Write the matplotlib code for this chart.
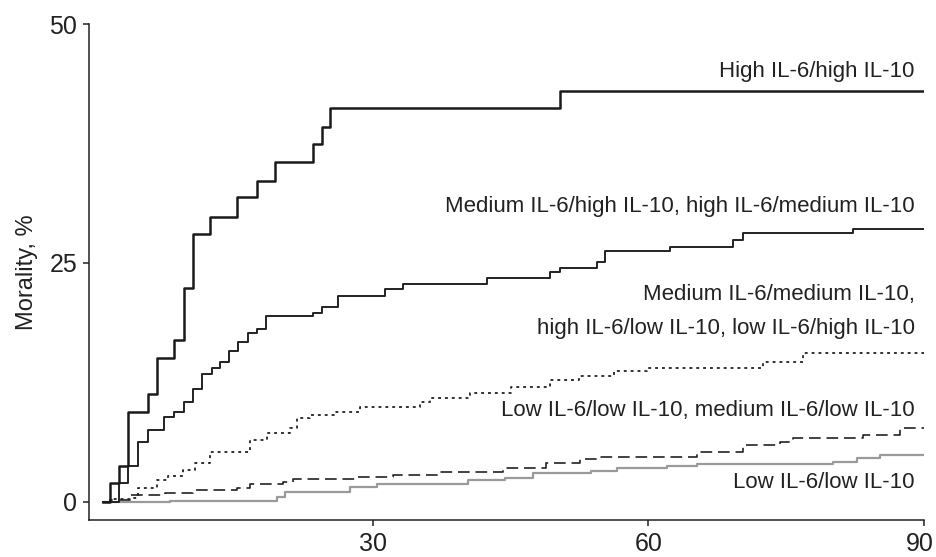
import matplotlib
matplotlib.use("Agg")
import matplotlib.pyplot as plt
from matplotlib.transforms import ScaledTranslation

plt.rcParams['font.family'] = ['Liberation Sans Narrow', 'Liberation Sans', 'DejaVu Sans']

# days / mortality (%)
high_x = [0.6, 1.4, 2.3, 3.3, 5.5, 6.5, 8.3, 9.4, 10.4, 12.3, 15.2, 17.4, 19.3, 23.5, 24.5, 25.3, 50.4, 90]
high_y = [0, 2.0, 3.7, 9.4, 11.3, 15.1, 16.9, 22.4, 28.0, 29.8, 31.9, 33.6, 35.6, 37.4, 39.2, 41.2, 43.0, 43.0]

medhigh_x = [0.6, 2.3, 3.3, 4.4, 5.5, 7.2, 8.3, 9.4, 10.4, 11.4, 12.5, 13.3, 14.3, 15.3, 16.4, 17.4, 18.4,
             23.5, 24.5, 26.2, 31.3, 33.3, 42.4, 49.3, 50.4, 54.4, 55.3, 62.4, 69.2, 70.3, 82.3, 90]
medhigh_y = [0, 2.0, 3.7, 6.3, 7.5, 8.9, 9.4, 10.5, 11.8, 13.4, 14.0, 14.6, 15.8, 16.7, 17.7, 18.1, 19.4,
             19.8, 20.4, 21.5, 22.3, 22.8, 23.4, 24.0, 24.5, 25.1, 26.3, 26.7, 27.4, 28.1, 28.6, 28.6]

medmed_x = [0.6, 1.4, 3.5, 4.4, 6.5, 7.7, 9.3, 10.6, 12.3, 16.6, 18.5, 21.0, 21.7, 23.1, 25.7, 28.6,
            35.1, 36.2, 40.6, 45.0, 49.3, 52.4, 56.2, 59.8, 72.5, 76.8, 90]
medmed_y = [0, 0.3, 0.4, 1.5, 2.3, 2.7, 3.3, 4.1, 5.2, 6.5, 7.2, 7.7, 8.8, 9.1, 9.4, 9.9,
            10.4, 10.9, 11.4, 12.0, 12.8, 13.2, 13.7, 14.0, 14.6, 15.6, 15.6]

lowmed_x = [0.6, 1.4, 3.5, 7.3, 10.4, 15.2, 16.6, 20.2, 21.3, 28.3, 32.2, 37.3, 44.2, 48.9, 52.6, 54.4,
            65.3, 70.3, 74.3, 75.8, 83.4, 87.4, 90]
lowmed_y = [0, 0.2, 0.7, 0.9, 1.25, 1.45, 1.9, 2.1, 2.4, 2.6, 2.8, 3.1, 3.5, 4.1, 4.5, 4.7,
            5.2, 5.9, 6.3, 6.7, 7.0, 7.7, 7.7]

low_x = [0.6, 7.9, 19.6, 20.4, 27.5, 30.4, 40.4, 44.4, 47.4, 53.7, 56.6, 62.0, 65.3, 80.1, 82.7, 85.2, 90]
low_y = [0, 0.1, 0.5, 1.0, 1.6, 1.9, 2.3, 2.5, 3.0, 3.2, 3.5, 3.7, 4.0, 4.2, 4.6, 4.9, 4.9]

labels = ['High IL-6/high IL-10',
          'Medium IL-6/high IL-10, high IL-6/medium IL-10',
          'Medium IL-6/medium IL-10,\nhigh IL-6/low IL-10, low IL-6/high IL-10',
          'Low IL-6/low IL-10, medium IL-6/low IL-10',
          'Low IL-6/low IL-10']
label_y = [45.0, 30.9, 19.9, 9.6, 2.0]

fig = plt.figure(figsize=(9.36, 5.57), dpi=100)
ax = fig.add_axes([0.0951, 0.0664, 0.8919, 0.8905])

ax.step(low_x, low_y, where='post', color='#9a9a9a', lw=1.6)
ax.step(lowmed_x, lowmed_y, where='post', color='#222222', lw=1.2, dashes=(7, 3.5))
ax.step(medmed_x, medmed_y, where='post', color='#222222', lw=1.3, dashes=(1.6, 2.2))
ax.step(medhigh_x, medhigh_y, where='post', color='#222222', lw=1.4)
ax.step(high_x, high_y, where='post', color='#1a1a1a', lw=1.8)

for txt, ty in zip(labels, label_y):
    ax.text(89.0, ty, txt, ha='right', va='center', fontsize=16, color='#222222', linespacing=1.8)

ax.set_xlim(-0.93, 90)
ax.set_ylim(-1.9, 50)
ax.set_xticks([30, 60, 90])
ax.set_yticks([0, 25, 50])
ax.tick_params(labelsize=18, length=4.5, width=1.1, colors='#222222', pad=4)
ax.spines['top'].set_visible(False)
ax.spines['right'].set_visible(False)
for s in ['left', 'bottom']:
    ax.spines[s].set_linewidth(1.1)
    ax.spines[s].set_color('#222222')

# last x label sits right at the figure edge, nudge it in a little
last = ax.get_xticklabels()[-1]
last.set_transform(last.get_transform() + ScaledTranslation(-4 / 100, 0, fig.dpi_scale_trans))

ax.set_ylabel('Morality, %', fontsize=17, color='#222222')
ax.yaxis.set_label_coords(-0.061, 0.5)

fig.savefig('out.png', dpi=100)
